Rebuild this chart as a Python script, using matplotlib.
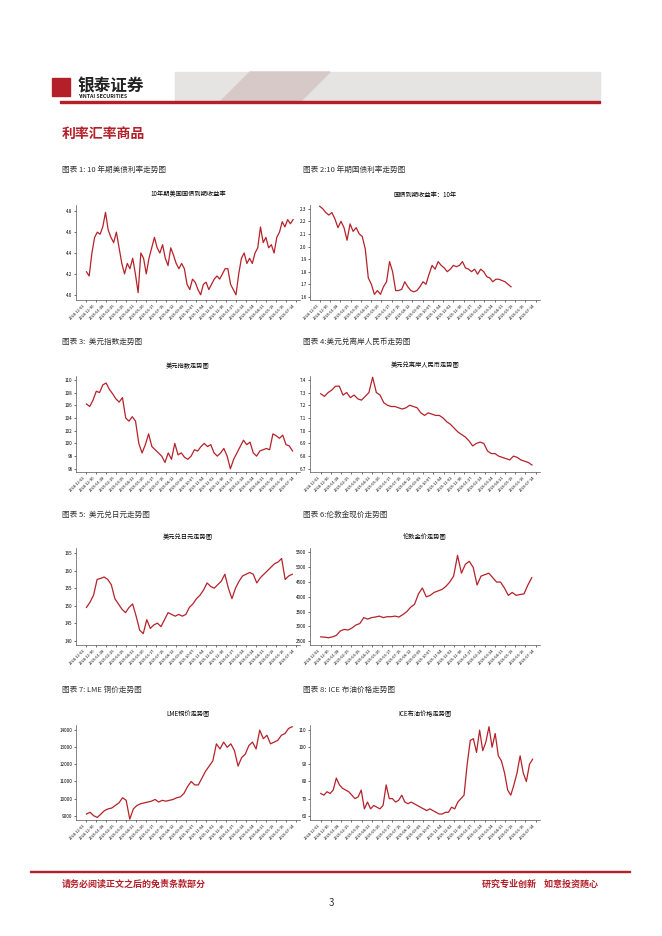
import numpy as np
import matplotlib.pyplot as plt
from matplotlib.patches import Rectangle, Polygon

plt.rcParams['font.family'] = ['Noto Sans CJK SC', 'DejaVu Sans']

RED = '#b3202a'
LINE = '#b5222a'

# data
us10y = [4.22,4.18,4.40,4.55,4.60,4.58,4.65,4.79,4.62,4.55,4.50,4.60,4.45,4.30,4.20,4.30,4.25,4.35,4.20,4.02,
         4.40,4.35,4.20,4.35,4.45,4.55,4.45,4.40,4.48,4.35,4.28,4.45,4.38,4.30,4.25,4.30,4.25,4.10,4.05,4.15,
         4.12,4.05,4.00,4.10,4.12,4.05,4.10,4.15,4.18,4.15,4.20,4.25,4.25,4.10,4.05,4.00,4.20,4.35,4.40,4.30,
         4.35,4.30,4.40,4.45,4.65,4.50,4.55,4.45,4.48,4.40,4.55,4.60,4.70,4.65,4.72,4.68,4.72]
cn10y = [2.32,2.30,2.27,2.25,2.27,2.22,2.15,2.20,2.15,2.05,2.18,2.12,2.15,2.10,2.08,1.98,1.75,1.70,1.62,1.65,
         1.62,1.68,1.72,1.88,1.80,1.65,1.65,1.66,1.72,1.68,1.65,1.64,1.65,1.68,1.72,1.70,1.78,1.85,1.82,1.88,
         1.85,1.83,1.80,1.82,1.85,1.84,1.85,1.88,1.83,1.82,1.80,1.82,1.78,1.82,1.80,1.76,1.75,1.72,1.74,1.74,
         1.73,1.72,1.70,1.68]
dxy = [106.2,105.8,106.8,108.2,108.0,109.2,109.5,108.5,107.8,107.0,106.5,107.2,104.0,103.5,104.2,103.5,100.0,98.5,
       99.8,101.5,99.5,99.0,98.5,98.0,97.0,98.5,97.5,100.0,98.2,98.5,97.8,97.5,98.0,99.0,98.8,99.5,100.0,99.5,
       99.8,98.5,98.0,98.5,99.2,98.0,96.0,97.5,98.5,99.5,100.5,99.8,100.2,98.5,98.0,98.8,99.0,99.2,99.0,101.5,
       101.2,100.8,101.3,99.8,99.6,98.8]
cnh = [7.29,7.27,7.30,7.32,7.35,7.35,7.28,7.30,7.26,7.28,7.25,7.24,7.27,7.30,7.42,7.30,7.28,7.22,7.20,7.19,7.19,
       7.18,7.17,7.18,7.20,7.19,7.18,7.14,7.12,7.14,7.13,7.12,7.12,7.10,7.07,7.05,7.02,6.99,6.97,6.95,6.92,6.88,
       6.90,6.91,6.90,6.84,6.82,6.82,6.80,6.79,6.78,6.77,6.80,6.79,6.77,6.76,6.75,6.73]
jpy = [149.5,151,153,157.5,157.8,158.2,157.5,156.0,152.0,150.5,149.0,148.0,149.5,150.5,147.0,143.0,142.0,146.0,
       143.5,144.5,145.0,144.0,146.0,148.0,147.5,147.0,147.5,147.0,147.5,149.5,150.5,152.0,153.0,154.5,156.5,155.5,
       155.0,156.0,157.0,159.0,155.0,152.0,155.0,157.0,158.5,159.0,159.5,159.0,156.5,158.0,159.0,160.0,161.0,162.0,
       162.5,163.5,157.5,158.5,159.0]
gold = [2650,2640,2620,2650,2700,2850,2900,2880,2950,3050,3100,3300,3250,3300,3320,3350,3300,3330,3330,3350,3320,
        3400,3500,3650,3750,4100,4300,4000,4050,4150,4200,4250,4350,4500,4700,5400,4800,5100,5200,5000,4400,4700,
        4750,4800,4650,4500,4500,4300,4050,4150,4050,4080,4100,4400,4650]
copper = [9100,9200,9000,8900,9100,9300,9400,9450,9600,9750,10050,9900,8800,9400,9600,9700,9750,9800,9850,9950,
          9800,9900,9850,9900,9950,10050,10100,10300,10700,11000,10800,10800,11200,11600,11900,12200,13200,12900,
          13300,13000,13200,12800,11900,12400,12600,13100,13300,12900,14000,13500,13700,13200,13300,13400,13700,
          13800,14100,14200]
brent = [73,72,74,73,75,82,78,76,75,74,72,70,71,75,64,68,64,66,65,64,66,78,70,70,68,69,72,68,67,68,67,66,65,64,
         63,64,63,62,61,61,62,62,65,64,68,70,72,90,104,105,97,110,98,103,112,100,108,95,92,85,75,72,78,85,95,85,
         80,90,93]

date_labels = ['2024-12-02','2024-12-30','2025-01-28','2025-02-25','2025-03-25','2025-04-22','2025-05-20',
               '2025-06-17','2025-07-15','2025-08-12','2025-09-09','2025-10-07','2025-11-04','2025-12-02',
               '2025-12-30','2026-01-27','2026-02-24','2026-03-24','2026-04-21','2026-05-19','2026-06-16',
               '2026-07-14']

panels = [
    ('图表 1: 10 年期美债利率走势图', '10年期美国国债到期收益率', us10y, [4.0, 4.2, 4.4, 4.6, 4.8], '{:.1f}', 1.0),
    ('图表 2:10 年期国债利率走势图', '国债到期收益率：10年', cn10y, [1.6,1.7,1.8,1.9,2.0,2.1,2.2,2.3], '{:.1f}', 0.9),
    ('图表 3:  美元指数走势图', '美元指数走势图', dxy, [96,98,100,102,104,106,108,110], '{:d}', 1.0),
    ('图表 4:美元兑离岸人民币走势图', '美元兑离岸人民币走势图', cnh, [6.7,6.8,6.9,7.0,7.1,7.2,7.3,7.4], '{:.1f}', 1.0),
    ('图表 5:  美元兑日元走势图', '美元兑日元走势图', jpy, [140,145,150,155,160,165], '{:d}', 1.0),
    ('图表 6:伦敦金现价走势图', '伦敦金价走势图', gold, [2500,3000,3500,4000,4500,5000,5500], '{:d}', 1.0),
    ('图表 7: LME 铜价走势图', 'LME铜价走势图', copper, [9000,10000,11000,12000,13000,14000], '{:d}', 1.0),
    ('图表 8: ICE 布油价格走势图', 'ICE布油价格走势图', brent, [60,70,80,90,100,110], '{:d}', 1.0),
]

W, H = 662, 936
fig = plt.figure(figsize=(W / 100, H / 100), dpi=100)

def fx(px): return px / W
def fy(py): return 1 - py / H

# header
fig.patches.append(Rectangle((fx(175), fy(102)), fx(600) - fx(175), (102 - 72) / H,
                             transform=fig.transFigure, color='#e6e3e3', zorder=0))
fig.patches.append(Polygon([(fx(250), fy(72)), (fx(330), fy(72)), (fx(300), fy(102)), (fx(220), fy(102))],
                           closed=True, transform=fig.transFigure, color='#d8c9c9', zorder=0))
fig.patches.append(Rectangle((fx(60), fy(103)), fx(600) - fx(60), 2.5 / H,
                             transform=fig.transFigure, color=RED))
fig.patches.append(Rectangle((fx(52), fy(96)), 18 / W, 18 / H, transform=fig.transFigure, color=RED))
fig.text(fx(78), fy(86), '银泰证券', fontsize=12, fontweight='bold', color='#222', va='center')
fig.text(fx(78), fy(96), 'YINTAI SECURITIES', fontsize=3.8, fontweight='bold', color='#222', va='center')

fig.text(fx(62), fy(134), '利率汇率商品', fontsize=10, fontweight='bold', color=RED, va='center')

rows_cap = [170, 342, 515, 690]
rows_ax = [(205, 300), (376, 472), (548, 645), (725, 820)]
cols = [(76, 300), (310, 540)]
cap_x = [62, 303]

for i, (cap, title, vals, yt, fmt, frac) in enumerate(panels):
    r, c = divmod(i, 2)
    fig.text(fx(cap_x[c]), fy(rows_cap[r]), cap, fontsize=5.5, color='#333', va='center')
    y0, y1 = rows_ax[r]
    x0, x1 = cols[c]
    ax = fig.add_axes([fx(x0), fy(y1), (x1 - x0) / W, (y1 - y0) / H])
    x = np.arange(len(vals))
    ax.plot(x, vals, color=LINE, lw=0.9)
    n = len(vals) / frac
    ax.set_xlim(-len(vals) * 0.05, n * 1.02)
    ax.set_ylim(yt[0] - (yt[1] - yt[0]) * 0.25, yt[-1] + (yt[1] - yt[0]) * 0.3)
    ax.set_yticks(yt)
    ax.set_yticklabels([fmt.format(v) for v in yt], fontsize=3.3)
    pos = np.linspace(0, n, len(date_labels))
    ax.set_xticks(pos)
    ax.set_xticklabels(date_labels, fontsize=2.8, rotation=45, ha='right')
    ax.tick_params(length=1.5, width=0.4, pad=1)
    for s in ['top', 'right']:
        ax.spines[s].set_visible(False)
    for s in ['left', 'bottom']:
        ax.spines[s].set_linewidth(0.5)
        ax.spines[s].set_color('#555')
    ax.set_title(title, fontsize=4.5, pad=6)

# footer
fig.patches.append(Rectangle((fx(30), fy(872)), fx(630) - fx(30), 1.5 / H,
                             transform=fig.transFigure, color=RED))
fig.text(fx(62), fy(884), '请务必阅读正文之后的免责条款部分', fontsize=6.5, fontweight='bold', color=RED, va='center')
fig.text(fx(598), fy(884), '研究专业创新    如意投资随心', fontsize=6.5, fontweight='bold', color=RED,
         va='center', ha='right')
fig.text(0.5, fy(903), '3', fontsize=7, ha='center', va='center', color='#333')

fig.savefig('out.png', dpi=100)
